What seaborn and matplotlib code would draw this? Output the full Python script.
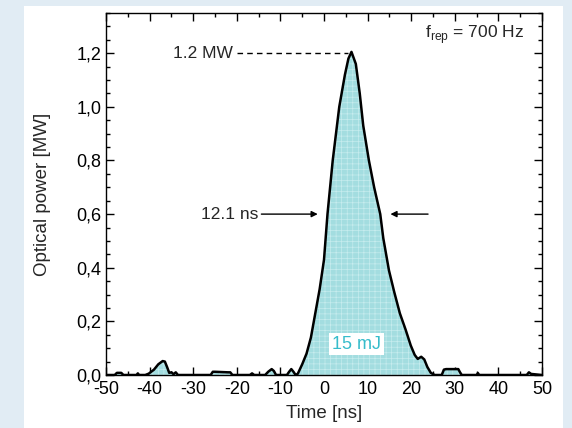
import numpy as np
import pandas as pd
from matplotlib import pyplot as plt
from matplotlib.ticker import MultipleLocator, FuncFormatter
from matplotlib.patches import Rectangle
import seaborn as sns

# pulse trace
time_ns = [-50, -48, -47.5, -47, -46.5, -46, -44, -43, -42.7, -42.4, -41, -40.2, -39, -38, -37, -36.5,
           -36, -35.5, -35, -34.5, -34, -33.5, -30, -26, -25.5, -25, -22, -21.5, -21, -17, -16.5, -16,
           -13.5, -12.8, -12, -11.5, -11, -8.5, -8, -7.5, -7, -6.5, -6, -5, -4, -3, -2, -1, 0, 0.8,
           2, 3.5, 4.8, 5.6, 6.3, 7.3, 8.2, 9, 10.3, 11.5, 12.9, 13.6, 14.9, 16.1, 17.4, 18.7, 19.9,
           20.8, 21.5, 22.3, 23, 23.7, 24.5, 25.4, 27, 27.5, 28, 30.8, 31.2, 31.6, 33, 35, 35.3, 35.6,
           40, 46.5, 47, 47.5, 50]
power_mw = [0, 0, 0.008, 0.008, 0.008, 0, 0, 0, 0.006, 0, 0, 0.005, 0.02, 0.04, 0.052, 0.05,
            0.03, 0.008, 0.01, 0.003, 0.01, 0, 0, 0, 0.012, 0.012, 0.01, 0.01, 0, 0, 0.006, 0,
            0, 0.012, 0.022, 0.015, 0, 0, 0.012, 0.022, 0.012, 0.0, 0.005, 0.04, 0.08, 0.14, 0.23, 0.32, 0.43, 0.6,
            0.8, 1.0, 1.12, 1.18, 1.205, 1.16, 1.05, 0.93, 0.8, 0.7, 0.6, 0.51, 0.39, 0.31, 0.23, 0.17, 0.11,
            0.075, 0.06, 0.068, 0.058, 0.03, 0.008, 0, 0, 0.02, 0.022, 0.022, 0.01, 0, 0, 0, 0.007, 0,
            0, 0, 0.01, 0.004, 0]

df = pd.DataFrame({'t': time_ns, 'p': power_mw})

sns.set_style('ticks')
plt.rcParams['font.family'] = ['Liberation Sans', 'DejaVu Sans']
plt.rcParams['axes.unicode_minus'] = False
plt.rcParams['hatch.linewidth'] = 0.5

fig = plt.figure(figsize=(5.72, 4.28), dpi=100, facecolor='#e1ecf4')
fig.patches.append(Rectangle((24/572, 0), (563-24)/572, 422/428, transform=fig.transFigure,
                             facecolor='white', edgecolor='none', zorder=-10))
ax = fig.add_axes([106/572, 53/428, 436/572, 362/428])
ax.set_facecolor('white')

ax.fill_between(df['t'], df['p'], 0, facecolor='#a3dde0', edgecolor='#c6ecee', hatch='+++', linewidth=0)
sns.lineplot(data=df, x='t', y='p', color='black', linewidth=1.8, ax=ax)

ax.set_xlim(-50, 50)
ax.set_ylim(0, 1.35)
ax.xaxis.set_major_locator(MultipleLocator(10))
ax.xaxis.set_minor_locator(MultipleLocator(5))
ax.yaxis.set_major_locator(MultipleLocator(0.2))
ax.yaxis.set_minor_locator(MultipleLocator(0.05))
ax.yaxis.set_major_formatter(FuncFormatter(lambda v, pos: f'{v:.1f}'.replace('.', ',')))
ax.tick_params(which='both', direction='in', top=True, right=True, width=1, labelsize=13, colors='black')
ax.tick_params(which='major', length=6)
ax.tick_params(which='minor', length=3)
ax.tick_params(axis='x', pad=4)
for s in ax.spines.values():
    s.set_linewidth(1)
    s.set_color('black')

ax.set_xlabel('Time [ns]', fontsize=13.5, labelpad=5)
ax.set_ylabel('Optical power [MW]', fontsize=13.5, labelpad=18)

# annotations
ax.plot([-20, 5.5], [1.2, 1.2], color='black', linestyle=(0, (4, 3)), linewidth=1)
ax.text(-20.8, 1.2, '1.2 MW', ha='right', va='center', fontsize=12.5)
ax.text(-15, 0.6, '12.1 ns', ha='right', va='center', fontsize=12.5)
ax.annotate('', xy=(-0.8, 0.6), xytext=(-15, 0.6),
            arrowprops=dict(arrowstyle='-|>', color='black', lw=1, mutation_scale=9))
ax.annotate('', xy=(14.6, 0.6), xytext=(24.5, 0.6),
            arrowprops=dict(arrowstyle='-|>', color='black', lw=1, mutation_scale=9))
ax.text(7.5, 0.115, '15 mJ', ha='center', va='center', fontsize=13, color='#36bccb',
        bbox=dict(facecolor='white', edgecolor='none', pad=2))
ax.text(46, 1.27, r'f$_{\mathregular{rep}}$ = 700 Hz', ha='right', va='center', fontsize=12.5)

fig.savefig('out.png', dpi=100)
